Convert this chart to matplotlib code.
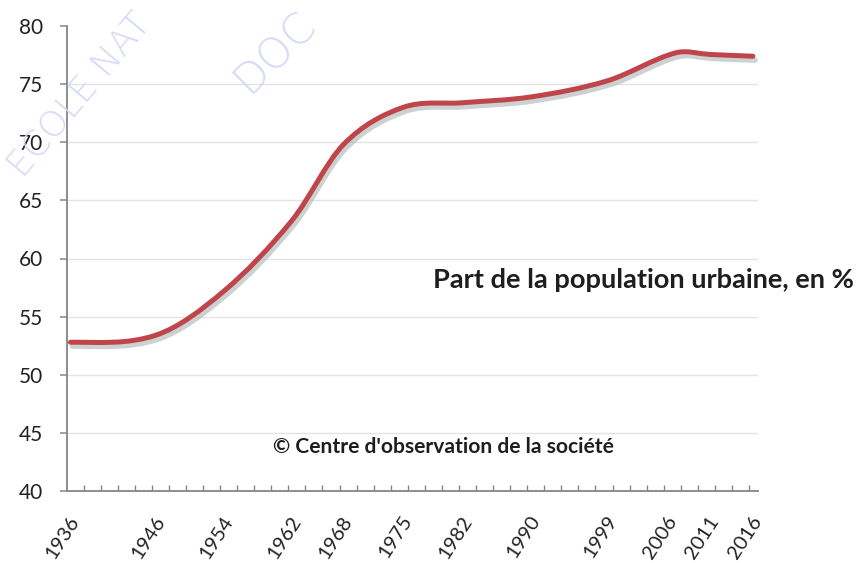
import numpy as np
import matplotlib
matplotlib.use("Agg")
import matplotlib.pyplot as plt
from matplotlib.path import Path
from matplotlib.patches import PathPatch
import matplotlib.transforms as mtransforms

# ---- data ----
years = [1936, 1946, 1954, 1962, 1968, 1975, 1982, 1990, 1999, 2007, 2011, 2016]
urban_share = [52.8, 53.4, 57.2, 63.3, 69.8, 73.0, 73.4, 73.9, 75.3, 77.7, 77.55, 77.4]
tick_years = [1936, 1946, 1954, 1962, 1968, 1975, 1982, 1990, 1999, 2006, 2011, 2016]
y_ticks = [40, 45, 50, 55, 60, 65, 70, 75, 80]
grid_levels = [45, 50, 55, 60, 65, 70, 75]
title_text = "Part de la population urbaine, en %"
source_text = "\u00a9 Centre d'observation de la soci\u00e9t\u00e9"
watermark_1 = "ECOLE NAT"
watermark_2 = "DOC"

W, H = 861, 563
DPI = 100
FONT = "Lato"

fig = plt.figure(figsize=(W / DPI, H / DPI), dpi=DPI)
fig.patch.set_facecolor("white")

L, R, T, B = 67, 758, 26, 491
ax = fig.add_axes([L / W, 1 - B / H, (R - L) / W, (B - T) / H])
ax.set_xlim(1935.6, 2016.6)
ax.set_ylim(40, 80)
ax.set_facecolor("none")


def fd_slopes(x, y):
    n = len(x)
    m = np.zeros(n)
    for i in range(1, n - 1):
        m[i] = (y[i + 1] - y[i - 1]) / (x[i + 1] - x[i - 1])
    m[0] = 0.0
    m[-1] = (y[-1] - y[-2]) / (x[-1] - x[-2])
    return m


def smooth_path(x, y):
    x = np.asarray(x, float)
    y = np.asarray(y, float)
    m = fd_slopes(x, y)
    verts = [(x[0], y[0])]
    codes = [Path.MOVETO]
    for i in range(len(x) - 1):
        h = x[i + 1] - x[i]
        c1 = (x[i] + h / 3, y[i] + m[i] * h / 3)
        c2 = (x[i + 1] - h / 3, y[i + 1] - m[i + 1] * h / 3)
        verts += [c1, c2, (x[i + 1], y[i + 1])]
        codes += [Path.CURVE4] * 3
    return Path(verts, codes)


# gridlines
ax.hlines(grid_levels, 1935.6, 2016.6, colors="#e3e3e3", linewidth=1.0, zorder=1)

path = smooth_path(years, urban_share)
shadow_tr = ax.transData + mtransforms.ScaledTranslation(1.5 / 72, -2.8 / 72, fig.dpi_scale_trans)
ax.add_patch(PathPatch(path, facecolor="none", edgecolor="#b7bfc0", lw=4.0,
                       alpha=0.7, transform=shadow_tr, zorder=2, capstyle="round"))
ax.add_patch(PathPatch(path, facecolor="none", edgecolor="#c0454a", lw=3.6,
                       zorder=3, capstyle="round", joinstyle="round"))

# spines
for s in ["top", "right"]:
    ax.spines[s].set_visible(False)
for s in ["left", "bottom"]:
    ax.spines[s].set_color("#858585")
    ax.spines[s].set_linewidth(1.3)

# y axis
ax.set_yticks(y_ticks)
ax.set_yticklabels([str(v) for v in y_ticks], fontfamily=FONT, fontsize=15, color="#222222")
ax.tick_params(axis="y", direction="out", length=5, width=1.1, color="#858585", pad=12)

# x axis
ax.set_xticks(tick_years)
ax.set_xticklabels([str(v) for v in tick_years], fontfamily=FONT, fontsize=14.5,
                   color="#222222", rotation=57, ha="right", va="center",
                   rotation_mode="anchor")
ax.tick_params(axis="x", which="major", length=0, pad=19)
ax.set_xticks(np.arange(1937.55, 2016.6, 2), minor=True)
ax.tick_params(axis="x", which="minor", direction="in", length=4, width=1.0, color="#858585")
for lab in ax.get_xticklabels():
    lab.set_transform(lab.get_transform() + mtransforms.ScaledTranslation(5 / DPI, 0, fig.dpi_scale_trans))

# annotations
t1 = fig.text(433 / W, 1 - 288 / H, title_text, fontfamily=FONT, fontweight="bold",
              fontsize=16, color="#1e1e1e", ha="left", va="baseline")
t2 = fig.text(273 / W, 1 - 453 / H, source_text, fontfamily=FONT, fontweight="bold",
              fontsize=13, color="#1e1e1e", ha="left", va="baseline")

# watermark (faint, diagonal)
fig.text(2 / W, 1 - 176 / H, watermark_1, fontfamily="DejaVu Sans", fontweight="light",
         fontsize=26, color="#d5d9f6", rotation=50, ha="left", va="baseline", zorder=0)
fig.text(226 / W, 1 - 92 / H, watermark_2, fontfamily="DejaVu Sans", fontweight="light",
         fontsize=31, color="#d5d9f6", rotation=45, ha="left", va="baseline", zorder=0)

# fit annotation widths to the picture
fig.canvas.draw()
r = fig.canvas.get_renderer()
for t, target in [(t1, 424), (t2, 339)]:
    w = t.get_window_extent(r).width
    t.set_fontsize(t.get_fontsize() * target / w)

fig.savefig("out.png", dpi=DPI, facecolor="white")
